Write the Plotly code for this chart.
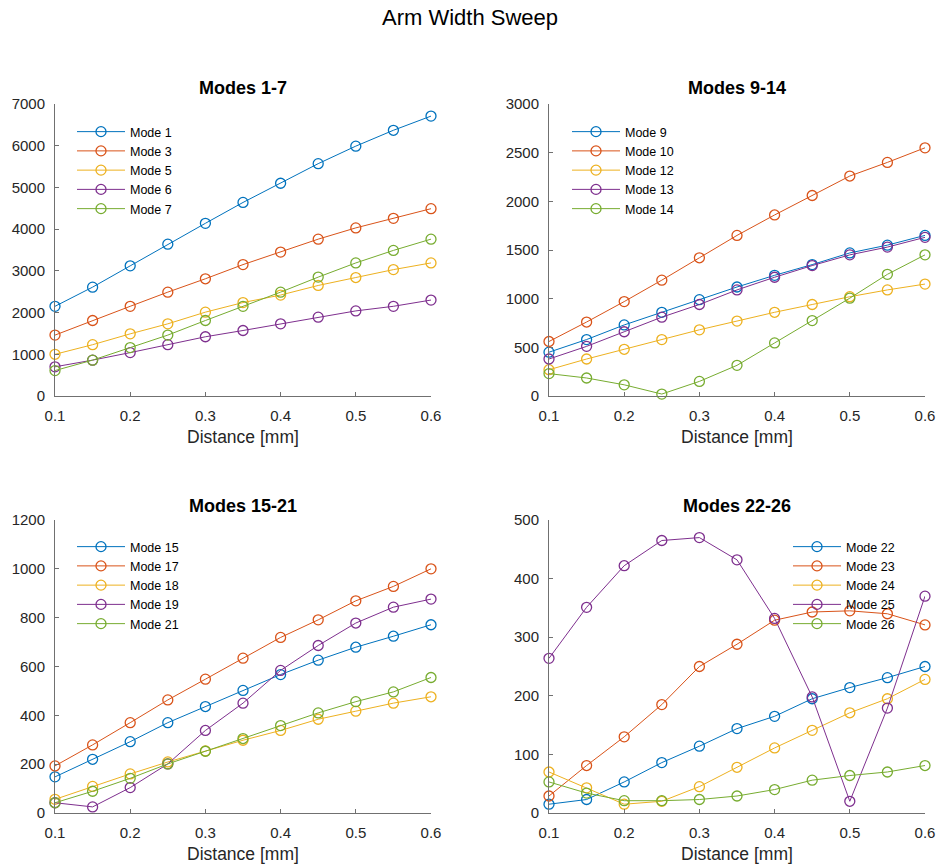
import plotly.graph_objects as go

# ---------------- data ----------------
DIST = [0.1, 0.15, 0.2, 0.25, 0.3, 0.35, 0.4, 0.45, 0.5, 0.55, 0.6]

P1_NAMES = ["Mode 1", "Mode 3", "Mode 5", "Mode 6", "Mode 7"]
P1_VALUES = [
    [2150, 2610, 3120, 3640, 4140, 4640, 5100, 5570, 5990, 6370, 6710],
    [1460, 1810, 2150, 2490, 2810, 3150, 3450, 3760, 4030, 4260, 4490],
    [1000, 1230, 1490, 1730, 2010, 2240, 2420, 2650, 2840, 3030, 3190],
    [700, 860, 1040, 1230, 1420, 1570, 1730, 1890, 2040, 2150, 2300],
    [610, 860, 1160, 1460, 1810, 2150, 2490, 2850, 3190, 3490, 3760],
]

P2_NAMES = ["Mode 9", "Mode 10", "Mode 12", "Mode 13", "Mode 14"]
P2_VALUES = [
    [450, 580, 730, 860, 990, 1120, 1240, 1350, 1470, 1550, 1650],
    [560, 760, 970, 1190, 1420, 1650, 1860, 2060, 2260, 2400, 2550],
    [270, 380, 480, 580, 680, 770, 860, 940, 1020, 1090, 1150],
    [380, 510, 660, 810, 940, 1090, 1220, 1340, 1450, 1530, 1630],
    [230, 185, 115, 20, 150, 315, 545, 775, 1005, 1250, 1450],
]

P3_NAMES = ["Mode 15", "Mode 17", "Mode 18", "Mode 19", "Mode 21"]
P3_VALUES = [
    [148, 220, 292, 370, 436, 502, 567, 626, 679, 724, 771],
    [193, 279, 370, 463, 548, 634, 719, 791, 869, 928, 1000],
    [56, 109, 160, 209, 254, 298, 338, 384, 417, 450, 476],
    [42, 25, 104, 201, 338, 450, 584, 686, 778, 843, 876],
    [42, 89, 142, 201, 253, 305, 358, 410, 456, 496, 555],
]

P4_NAMES = ["Mode 22", "Mode 23", "Mode 24", "Mode 25", "Mode 26"]
P4_VALUES = [
    [15, 23, 53, 86, 114, 144, 165, 195, 214, 231, 250],
    [29, 81, 130, 185, 250, 288, 329, 343, 345, 340, 321],
    [70, 43, 15, 20, 45, 78, 111, 141, 171, 195, 228],
    [264, 351, 422, 465, 470, 432, 332, 198, 20, 179, 370],
    [53, 34, 21, 21, 23, 29, 40, 56, 64, 70, 81],
]

PANEL_TITLES = ["Modes 1-7", "Modes 9-14", "Modes 15-21", "Modes 22-26"]
Y_RANGES = [[0, 7000], [0, 3000], [0, 1200], [0, 500]]
Y_DTICKS = [1000, 500, 200, 100]
X_TICKS = [0.1, 0.2, 0.3, 0.4, 0.5, 0.6]
X_LABEL = "Distance [mm]"
FIG_TITLE = "Arm Width Sweep"

COLORS = ["#0072BD", "#D95319", "#EDB120", "#7E2F8E", "#77AC30"]

# ---------------- layout geometry ----------------
W, H = 940, 867
FONT = "Liberation Sans, Arial, Helvetica, sans-serif"
TXT = "#262626"
AXC = "#707070"


def px_x(p):
    return p / W


def px_y(p):
    return 1 - p / H


XDOM = [[px_x(55), px_x(431)], [px_x(549), px_x(925)],
        [px_x(55), px_x(431)], [px_x(549), px_x(925)]]
YDOM = [[px_y(396), px_y(104)], [px_y(396), px_y(104)],
        [px_y(813), px_y(520)], [px_y(813), px_y(520)]]
LEGEND_POS = [(px_x(72), px_y(117)), (px_x(567), px_y(117)),
              (px_x(72), px_y(532)), (px_x(788), px_y(532))]
XLABEL_Y = [437, 437, 854, 854]
TITLE_Y = [88, 88, 506, 506]

fig = go.Figure()

panels = [(P1_NAMES, P1_VALUES), (P2_NAMES, P2_VALUES),
          (P3_NAMES, P3_VALUES), (P4_NAMES, P4_VALUES)]

annotations = []
layout_upd = {}
for i, (names, vals) in enumerate(panels):
    k = "" if i == 0 else str(i + 1)
    leg = "legend" if i == 0 else f"legend{i + 1}"
    for j, (nm, v) in enumerate(zip(names, vals)):
        fig.add_trace(go.Scatter(
            x=DIST, y=v, name=nm, mode="lines+markers",
            xaxis="x" + k, yaxis="y" + k, legend=leg,
            line=dict(color=COLORS[j], width=1),
            marker=dict(symbol="circle-open", size=10,
                        color=COLORS[j], line=dict(width=1.3, color=COLORS[j])),
            cliponaxis=False,
        ))
    axis_common = dict(showgrid=False, zeroline=False, showline=True,
                       linecolor=AXC, linewidth=1, ticks="inside", ticklen=4,
                       tickcolor=AXC, tickwidth=1, mirror=False,
                       tickfont=dict(family=FONT, size=15, color=TXT),
                       automargin=False)
    layout_upd["xaxis" + k] = dict(
        axis_common, domain=XDOM[i], range=[0.1, 0.6],
        tickvals=X_TICKS, ticktext=[f"{t:.1f}" for t in X_TICKS],
        anchor="y" + k, ticklabelstandoff=6)
    layout_upd["yaxis" + k] = dict(
        axis_common, domain=YDOM[i], range=Y_RANGES[i],
        dtick=Y_DTICKS[i], tick0=0, anchor="x" + k, ticklabelstandoff=6)
    layout_upd[leg] = dict(
        x=LEGEND_POS[i][0], y=LEGEND_POS[i][1], xanchor="left", yanchor="top",
        bgcolor="rgba(0,0,0,0)", borderwidth=0,
        font=dict(family=FONT, size=12.5, color="#000000"),
        tracegroupgap=0, itemwidth=48)
    xc = (XDOM[i][0] + XDOM[i][1]) / 2
    annotations.append(dict(
        text="<b>" + PANEL_TITLES[i] + "</b>", x=xc, y=px_y(TITLE_Y[i]),
        xref="paper", yref="paper", xanchor="center", yanchor="middle",
        showarrow=False, font=dict(family=FONT, size=18, color="#000000")))
    annotations.append(dict(
        text=X_LABEL, x=xc, y=px_y(XLABEL_Y[i]),
        xref="paper", yref="paper", xanchor="center", yanchor="middle",
        showarrow=False, font=dict(family=FONT, size=17.5, color=TXT)))

fig.update_layout(
    template="none",
    width=W, height=H,
    margin=dict(l=0, r=0, t=0, b=0),
    paper_bgcolor="white", plot_bgcolor="white",
    title=dict(text=FIG_TITLE, x=0.5, xanchor="center",
               y=px_y(17), yanchor="middle", yref="container",
               font=dict(family=FONT, size=22, color="#000000")),
    annotations=annotations,
    showlegend=True,
    **layout_upd,
)

# remove the page's default body margin so the figure fills the window exactly
fig.write_html(
    "out.html",
    config={"displayModeBar": False},
    post_script="document.body.style.margin='0';document.body.style.overflow='hidden';",
)
